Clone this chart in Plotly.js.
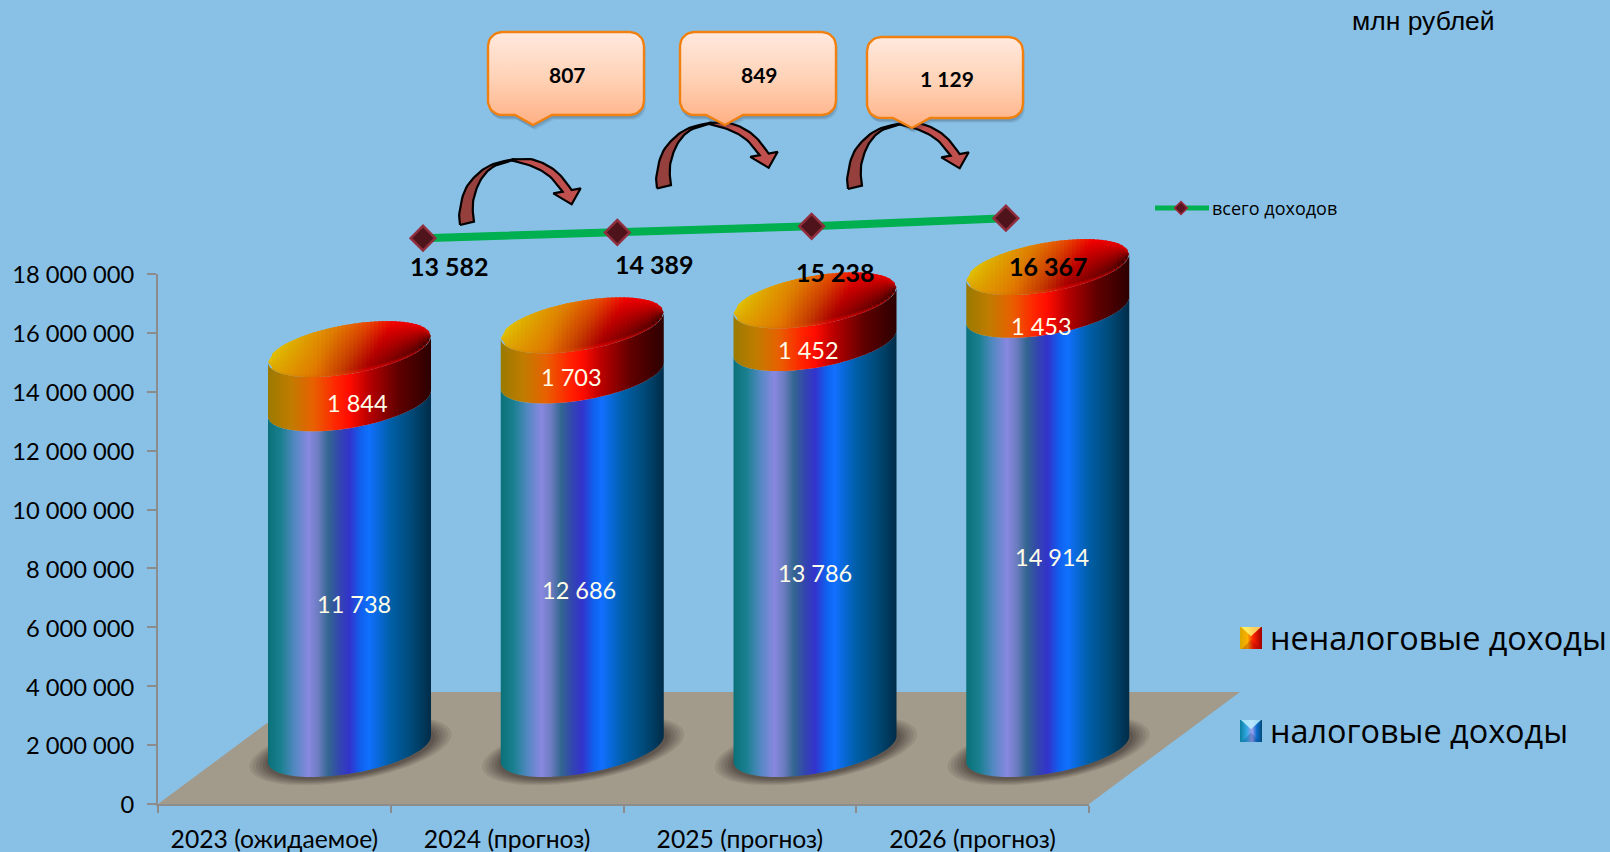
<!DOCTYPE html>
<html><head><meta charset="utf-8">
<script src="https://cdn.plot.ly/plotly-3.0.1.min.js"></script>
<style>html,body{margin:0;padding:0;background:#89c1e6}#c{width:1610px;height:852px}</style></head>
<body><div id="c"></div>
<script>
const categories = ['2023 (ожидаемое)','2024 (прогноз)','2025 (прогноз)','2026 (прогноз)'];
const taxIncome = [11738,12686,13786,14914];
const nonTaxIncome = [1844,1703,1452,1453];
const totalIncome = [13582,14389,15238,16367];
const increments = ['807','849','1 129'];
const seriesNames = ['неналоговые доходы','налоговые доходы','всего доходов'];
const unitLabel = 'млн рублей';

const W=1610,H=852;
const X0=158,X1=1089,Y0=804,Y18=274;          // visible axes box in px
const pxPerCat=(X1-X0)/4, pxPerVal=(Y0-Y18)/18e6;
const CALIBRI='Lato, "Open Sans", sans-serif', LEG='"Open Sans", sans-serif';
const fmt=v=>String(v).replace(/\B(?=(\d{3})+$)/g,' ');
const tr=[];

// real (transparent) stacked columns carry the visible axes
tr.push({type:'bar',x:[0.5,1.5,2.5,3.5],y:taxIncome.map(v=>v*1000),name:seriesNames[1],marker:{opacity:0},xaxis:'x',yaxis:'y',hoverinfo:'skip',showlegend:false});
tr.push({type:'bar',x:[0.5,1.5,2.5,3.5],y:nonTaxIncome.map(v=>v*1000),name:seriesNames[0],marker:{opacity:0},xaxis:'x',yaxis:'y',hoverinfo:'skip',showlegend:false});

const blueStops=[[0,'#0a7078'],[0.08,'#1a8090'],[0.16,'#5088c0'],[0.25,'#8888e0'],[0.31,'#6c7cc0'],[0.37,'#336690'],[0.44,'#3345b0'],[0.5,'#3333cc'],[0.57,'#1060ee'],[0.62,'#1070ff'],[0.75,'#005fa8'],[0.88,'#004a78'],[1,'#002c48']];
const hotStops=[[0,'#9a7a00'],[0.14,'#c07c00'],[0.28,'#e86000'],[0.42,'#ff2400'],[0.5,'#ff0c00'],[0.62,'#b80000'],[0.8,'#600000'],[1,'#2c0000']];
const capHue=[[0,[224,200,0]],[0.2,[222,165,0]],[0.42,[224,125,0]],[0.62,[232,70,0]],[0.78,[245,0,0]],[1,[230,0,0]]];

function hue(t){t=Math.max(0,Math.min(1,t));for(let k=1;k<capHue.length;k++){if(t<=capHue[k][0]){const a=capHue[k-1],b=capHue[k],f=(t-a[0])/(b[0]-a[0]);return a[1].map((c,j)=>c+(b[1][j]-c)*f);}}return capHue[capHue.length-1][1];}
function capColor(u,w){ // u: left→right 0..1, w: back -1 .. front +1
  const c=hue(u+0.18*(w+1)/2);
  let m=1-((w+1)/2)*Math.max(0,u-0.3)*1.1;
  if(u>0.9)m*=1-(u-0.9)*3*(w+1)/2;
  if(w>0.9){const r=(w-0.9)/0.1;m=m+(0.95-m)*r*0.8;}
  return 'rgb('+c.map(v=>Math.round(v*m)).join(',')+')';
}

// ---------- floor + cylinders, on a full-page axis pair sharing the visible scale ----------
const DEPTH=0.3228, BASE=55/pxPerVal;
const HALF=81.5/pxPerCat, SKEW=13/pxPerVal, BOW=24.8/pxPerVal;
function ell(cx,lev,t,sc){sc=sc||1;return [cx+HALF*sc*Math.cos(t), lev+(SKEW*Math.cos(t)+BOW*Math.sin(t))*sc];}
function arcs(cx,lev,from,to,sc){const a=[];for(let k=0;k<=60;k++){a.push(ell(cx,lev,from+(to-from)*k/60,sc));}return a;}
function poly(pts,extra,xa,ya){tr.push(Object.assign({type:'scatter',mode:'none',fill:'toself',x:pts.map(p=>p[0]),y:pts.map(p=>p[1]),xaxis:xa,yaxis:ya,hoverinfo:'skip',showlegend:false},extra));}
const g=(pts,extra)=>poly(pts,extra,'x2','y2');
function hgrad(cs,a,b){return {type:'horizontal',colorscale:cs,start:a,stop:b};}
function vgrad(cs,a,b){return {type:'vertical',colorscale:cs,start:a,stop:b};}

const fd=151/pxPerCat, fh=112/pxPerVal;
g([[0,0],[4,0],[4+fd,fh],[fd,fh]],{fillcolor:'#a29a8a'});

const STRIPS=40;
function capStrips(cx,lev){
  const L=cx-HALF;
  for(let s=0;s<STRIPS;s++){
    const u0=s/STRIPS,u1=(s+1.6)/STRIPS>1?1:(s+1.6)/STRIPS,um=(s+.5)/STRIPS;
    const at=(u)=>{const c=2*u-1,sn=Math.sqrt(Math.max(0,1-c*c)),x=L+2*HALF*u;return {x:x,back:lev+SKEW*c+BOW*sn,front:lev+SKEW*c-BOW*sn};};
    const a=at(u0),b=at(u1),m=at(um);
    const stops=[];for(let k=0;k<=12;k++){stops.push([k/12,capColor(um,-1+2*k/12)]);}
    g([[a.x,a.back],[b.x,b.back],[b.x,b.front],[a.x,a.front],[a.x,a.back]],{fillgradient:vgrad(stops,m.back,m.front)});
  }
}

categories.forEach((c,i)=>{
  const cx=i+0.5+DEPTH, L=cx-HALF, R=cx+HALF;
  [[1.24,0.10],[1.2,0.10],[1.16,0.12],[1.12,0.14],[1.08,0.16],[1.04,0.18]].forEach(s=>{
    g(arcs(cx+0.004,BASE-1.5/pxPerVal,0,2*Math.PI,s[0]),{fillcolor:'rgba(50,40,40,'+s[1]+')'});
  });
  const lv1=BASE, lv2=BASE+taxIncome[i]*1000, lv3=lv2+nonTaxIncome[i]*1000;
  const front=(lev)=>arcs(cx,lev,Math.PI,2*Math.PI);
  const band=(a,b)=>front(a).concat(front(b).reverse());
  g(band(lv1,lv2),{fillgradient:hgrad(blueStops,L,R)});
  g(band(lv2,lv3),{fillgradient:hgrad(hotStops,L,R)});
  capStrips(cx,lv3);
});

// ---------- total line, own hidden scale ----------
const lineX0=423,lineDX=194.3,lineY0=238.2,lineK=7.18/1000;
tr.push({type:'scatter',mode:'lines+markers',x:[0,1,2,3],y:totalIncome,xaxis:'x3',yaxis:'y3',
  line:{color:'#00b050',width:8},marker:{symbol:'diamond',size:19,color:'#4f141b',line:{color:'#912e3e',width:2.5}},name:seriesNames[2],hoverinfo:'skip',showlegend:false});

// ---------- page-space decoration (callouts, curved arrows, legend swatches) ----------
const p=(pts,extra)=>poly(pts,extra,'x4','y4');
const z=(a,dx,dy)=>a.map(q=>[450+q[0]/3+dx,150+q[1]/3+dy]);
function smooth(a){ // Catmull-Rom through the given guide points
  const o=[];for(let i=0;i<a.length-1;i++){const p0=a[Math.max(0,i-1)],p1=a[i],p2=a[i+1],p3=a[Math.min(a.length-1,i+2)];
    for(let k=0;k<8;k++){const t=k/8,t2=t*t,t3=t2*t;o.push([0,1].map(j=>0.5*(2*p1[j]+(p2[j]-p0[j])*t+(2*p0[j]-5*p1[j]+4*p2[j]-p3[j])*t2+(3*p1[j]-p0[j]-3*p2[j]+p3[j])*t3)));}}
  o.push(a[a.length-1]);return o;
}
const darkOuter=[[30,225],[28,190],[45,120],[85,70],[130,42],[190,28]];
const darkInner=[[190,30],[130,50],[95,85],[75,130],[68,170],[72,215]];
const lightOuter=[[185,28],[240,27],[290,45],[330,75],[365,120]];
const lightInner=[[338,125],[300,80],[250,50],[185,31]];
const headPts=[[392,115],[365,163],[310,130]];
const darkArc=smooth(darkOuter).concat(smooth(darkInner),[darkOuter[0]]);
const lightArc=smooth(lightOuter).concat(headPts,smooth(lightInner),[lightOuter[0]]);
[[0,0],[197,-36.5],[388,-36]].forEach(o=>{
  p(z(darkArc,o[0],o[1]),{fillcolor:'#96403e',mode:'lines',line:{color:'#000',width:2.2}});
  p(z(lightArc,o[0],o[1]),{fillcolor:'#c0504d',mode:'lines',line:{color:'#000',width:2.2}});
});
function callout(x0,x1,y0,y1,tip,tb0,tb1,r,dy){
  const a=[];const corner=(cx,cy,s,e)=>{for(let k=0;k<=8;k++){const t=s+(e-s)*k/8;a.push([cx+r*Math.cos(t),cy+r*Math.sin(t)+0]);}};
  corner(x0+r,y0+r,Math.PI,1.5*Math.PI);corner(x1-r,y0+r,1.5*Math.PI,2*Math.PI);corner(x1-r,y1-r,0,.5*Math.PI);
  a.push([tb1,y1],[tip,y1+dy],[tb0,y1]);corner(x0+r,y1-r,.5*Math.PI,Math.PI);a.push(a[0]);return a;
}
[[488,644,32,115,533,515,552],[680,836,32,115,725,706,743],[867,1023,37,118,912,893,930]].forEach(b=>{
  const shape=callout(b[0],b[1],b[2],b[3],b[4],b[5],b[6],14,10);
  [[3,5,0.08],[2,4,0.1],[1,3,0.12]].forEach(s=>p(shape.map(q=>[q[0]+s[0]-1,q[1]+s[1]]),{fillcolor:'rgba(40,50,70,'+s[2]+')'}));
  p(shape,{mode:'lines',line:{color:'#f08010',width:2.4},fillgradient:vgrad([[0,'#ffe9de'],[0.5,'#ffd2b6'],[1,'#ffb084']],b[2],b[3]+10)});
});
// legend swatches
function swatch(x,y,s,cs,top,bot){
  p([[x,y],[x+s,y],[x+s,y+s],[x,y+s],[x,y]],{fillgradient:hgrad(cs,x,x+s)});
  p([[x+1,y],[x+s-1,y],[x+s/2,y+s*0.42],[x+1,y]],{fillcolor:top});
  p([[x+2,y+s],[x+s-2,y+s],[x+s/2,y+s*0.58],[x+2,y+s]],{fillcolor:bot});
}
swatch(1240,627,22,[[0,'#d8a800'],[0.35,'#ffb000'],[0.6,'#ff2000'],[1,'#a00000']],'rgba(255,250,120,0.8)','rgba(120,0,0,0.25)');
swatch(1240,720,22,[[0,'#0a7fa0'],[0.3,'#30a8e0'],[0.55,'#a0a0f0'],[0.75,'#1070d0'],[1,'#004a78']],'rgba(190,240,255,0.85)','rgba(0,50,110,0.25)');
tr.push({type:'scatter',mode:'lines',x:[1155,1209],y:[208,208],xaxis:'x4',yaxis:'y4',line:{color:'#00b050',width:5},hoverinfo:'skip',showlegend:false});
tr.push({type:'scatter',mode:'markers',x:[1181],y:[208],xaxis:'x4',yaxis:'y4',marker:{symbol:'diamond',size:10,color:'#5a1620',line:{color:'#a02a40',width:1.5}},hoverinfo:'skip',showlegend:false});

// ---------- annotations ----------
const ann=[];
const A=(o)=>ann.push(Object.assign({showarrow:false,xanchor:'center',yanchor:'middle'},o));
const valFont={family:CALIBRI,size:23.5,color:'#fffde8'};
const taxShift=[[4.5,28],[-3.5,28],[0,27],[4,28]], hotShift=[[8,27],[-11,27],[-7,28],[-6,38]];
categories.forEach((c,i)=>{
  const cx=i+0.5+DEPTH, lv2=BASE+taxIncome[i]*1000, lv3=lv2+nonTaxIncome[i]*1000;
  A({xref:'x2',yref:'y2',x:cx,y:(BASE+lv2)/2,xshift:taxShift[i][0],yshift:-taxShift[i][1],text:fmt(taxIncome[i]),font:valFont});
  A({xref:'x2',yref:'y2',x:cx,y:(lv2+lv3)/2,xshift:hotShift[i][0],yshift:-hotShift[i][1],text:fmt(nonTaxIncome[i]),font:valFont});
});
const totShift=[[26,28],[37,32],[24,46],[43,48]];
totalIncome.forEach((v,i)=>A({xref:'x3',yref:'y3',x:i,y:v,xshift:totShift[i][0],yshift:-totShift[i][1],text:fmt(v),font:{family:CALIBRI,size:25,color:'#000',weight:700}}));
[[567,74],[759,74],[947,78]].forEach((q,i)=>A({xref:'x4',yref:'y4',x:q[0],y:q[1],text:increments[i],font:{family:CALIBRI,size:21,color:'#000',weight:700}}));
A({xref:'x4',yref:'y4',x:1350,y:21,xanchor:'left',text:unitLabel,font:{family:'"Liberation Sans",Arial,sans-serif',size:26.5,color:'#000'}});
A({xref:'x4',yref:'y4',x:1210,y:208,xanchor:'left',text:seriesNames[2],font:{family:LEG,size:18,color:'#000'}});
A({xref:'x4',yref:'y4',x:1268,y:636.5,xanchor:'left',text:seriesNames[0],font:{family:LEG,size:32.4,color:'#000'}});
A({xref:'x4',yref:'y4',x:1268,y:729.5,xanchor:'left',text:seriesNames[1],font:{family:LEG,size:32.4,color:'#000'}});

const hidden={visible:false,showgrid:false,zeroline:false,domain:[0,1],fixedrange:true};
const layout={
  width:W,height:H,margin:{l:0,r:0,t:0,b:0},paper_bgcolor:'#89c1e6',plot_bgcolor:'rgba(0,0,0,0)',showlegend:false,separators:', ',barmode:'stack',
  xaxis:{domain:[X0/W,X1/W],range:[0,4],anchor:'y',showgrid:false,zeroline:false,showline:true,linecolor:'#8c8c8c',linewidth:2,
    tickmode:'array',tickvals:[0.5,1.5,2.5,3.5],ticktext:categories,ticks:'',ticklabelstandoff:12,tickfont:{family:CALIBRI,size:24.7,color:'#000'},
    minor:{tickmode:'array',tickvals:[0,1,2,3,4],ticks:'outside',ticklen:7,tickcolor:'#8c8c8c',tickwidth:2,showgrid:false}},
  yaxis:{domain:[(H-Y0)/H,(H-Y18)/H],range:[0,18e6],anchor:'x',dtick:2e6,tick0:0,tickformat:',d',showgrid:false,zeroline:false,showline:true,linecolor:'#8c8c8c',linewidth:2,
    ticks:'outside',ticklen:9,tickcolor:'#8c8c8c',tickwidth:2,ticklabelstandoff:8,ticklabelshift:1,tickfont:{family:CALIBRI,size:23.7,color:'#000'}},
  xaxis2:Object.assign({},hidden,{anchor:'y2',range:[-X0/pxPerCat,(W-X0)/pxPerCat]}),
  yaxis2:Object.assign({},hidden,{anchor:'x2',range:[-(H-Y0)/pxPerVal,Y0/pxPerVal]}),
  xaxis3:Object.assign({},hidden,{anchor:'y3',range:[-lineX0/lineDX,(W-lineX0)/lineDX]}),
  yaxis3:Object.assign({},hidden,{anchor:'x3',range:[totalIncome[0]-(H-lineY0)/lineK,totalIncome[0]+lineY0/lineK]}),
  xaxis4:Object.assign({},hidden,{anchor:'y4',range:[0,W]}),
  yaxis4:Object.assign({},hidden,{anchor:'x4',range:[H,0]}),
  annotations:ann
};
Plotly.newPlot('c',tr,layout,{displayModeBar:false,staticPlot:true});
</script></body></html>
